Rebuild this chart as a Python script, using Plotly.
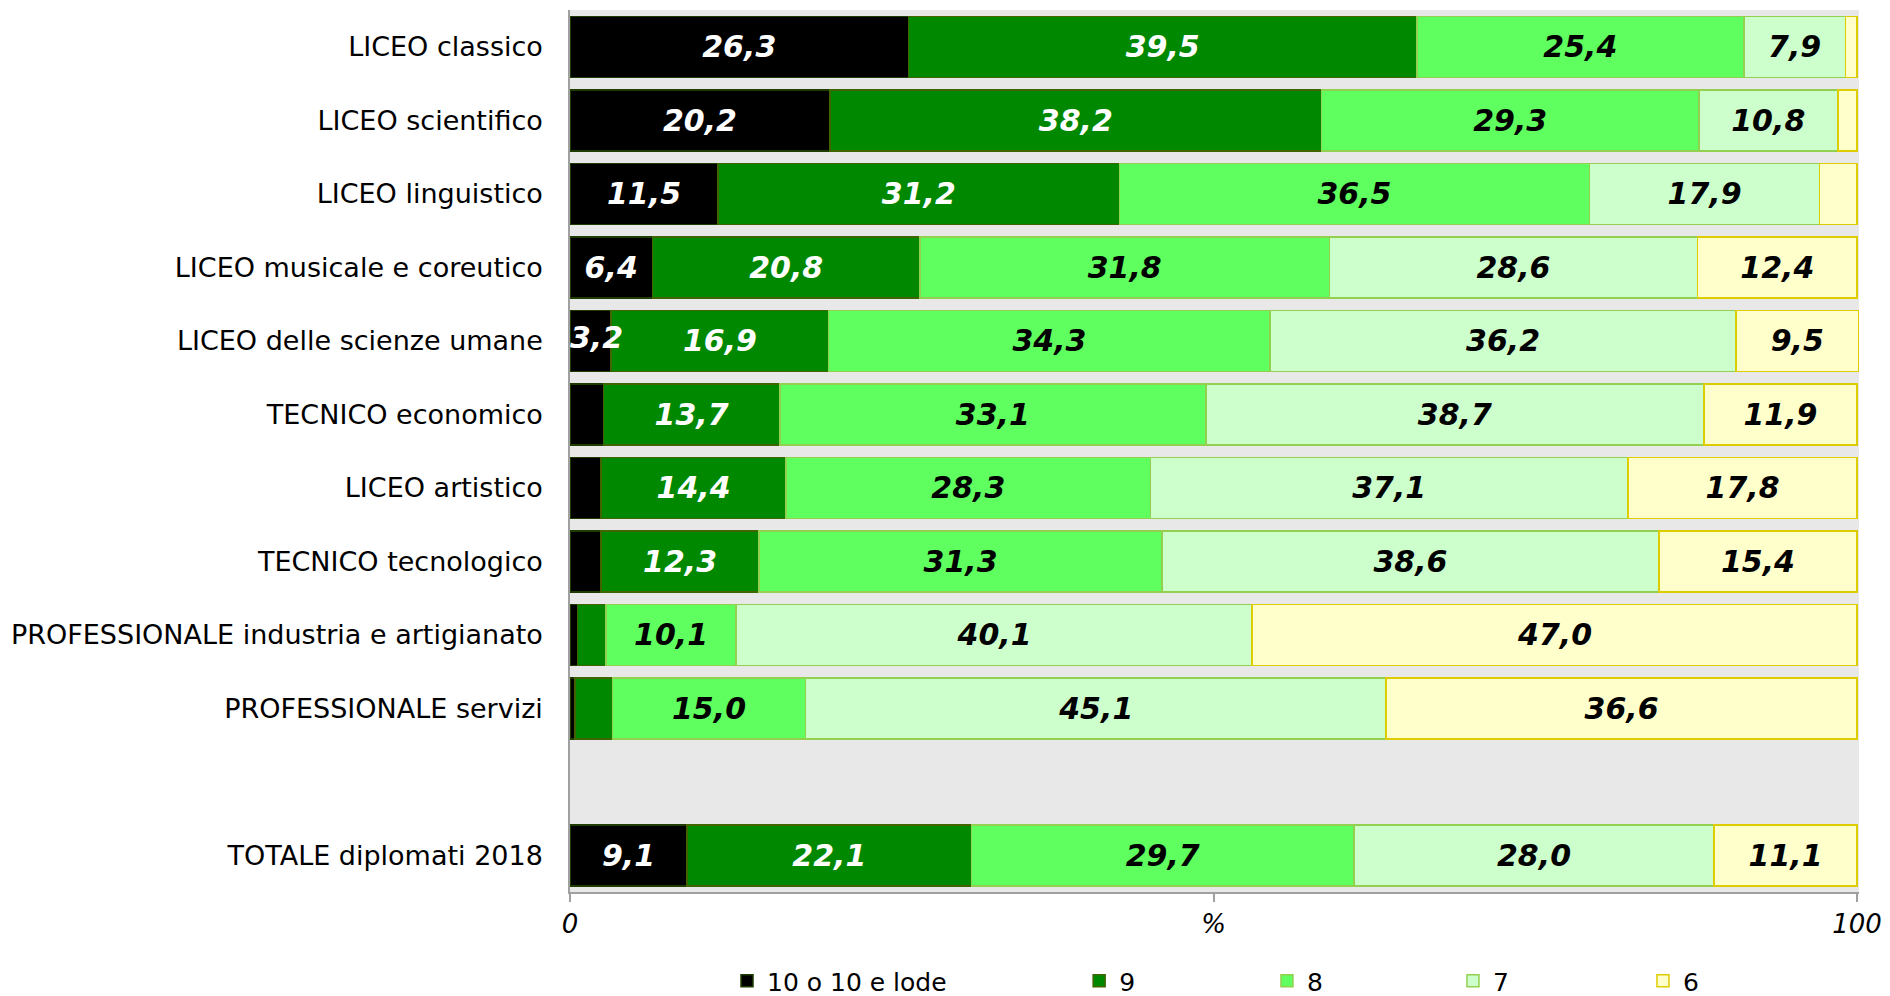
import plotly.graph_objects as go

categories = [
    "LICEO classico",
    "LICEO scientifico",
    "LICEO linguistico",
    "LICEO musicale e coreutico",
    "LICEO delle scienze umane",
    "TECNICO economico",
    "LICEO artistico",
    "TECNICO tecnologico",
    "PROFESSIONALE industria e artigianato",
    "PROFESSIONALE servizi",
    " ",
    "TOTALE diplomati 2018",
]

v10 = [26.3, 20.2, 11.5, 6.4, 3.2, 2.6, 2.4, 2.4, 0.6, 0.4, None, 9.1]
v9 = [39.5, 38.2, 31.2, 20.8, 16.9, 13.7, 14.4, 12.3, 2.2, 2.9, None, 22.1]
v8 = [25.4, 29.3, 36.5, 31.8, 34.3, 33.1, 28.3, 31.3, 10.1, 15.0, None, 29.7]
v7 = [7.9, 10.8, 17.9, 28.6, 36.2, 38.7, 37.1, 38.6, 40.1, 45.1, None, 28.0]
v6 = [0.9, 1.5, 2.9, 12.4, 9.5, 11.9, 17.8, 15.4, 47.0, 36.6, None, 11.1]

series_names = ["10 o 10 e lode", "9", "8", "7", "6"]
series_values = [v10, v9, v8, v7, v6]
fill_colors = ["#000000", "#008800", "#5EFF5E", "#CCFFCC", "#FFFFCC"]
line_colors = ["#1E3C00", "#3F6400", "#94D050", "#94D050", "#DCCC00"]
text_colors = ["#FFFFFF", "#FFFFFF", "#000000", "#000000", "#000000"]

tick_vals = [0, 50, 100]
tick_text = ["0", "%", "100"]

FONT = "DejaVu Sans, Verdana, sans-serif"


def fmt(v):
    return f"{v:.1f}".replace(".", ",")


def is_narrow(v, first_series):
    return first_series and v is not None and 3 <= v < 5


def bar_label(v, first_series):
    if v is None or v < 3 or is_narrow(v, first_series):
        return ""
    return fmt(v)


legend_x = [0.1218, 0.395, 0.5407, 0.685, 0.8324]
legend_ids = ["legend", "legend2", "legend3", "legend4", "legend5"]

fig = go.Figure()
for i, (name, vals) in enumerate(zip(series_names, series_values)):
    fig.add_trace(go.Bar(
        name=name,
        y=categories,
        x=vals,
        orientation="h",
        marker=dict(color=fill_colors[i], line=dict(color=line_colors[i], width=1.5)),
        text=[bar_label(v, i == 0) for v in vals],
        texttemplate="%{text}",
        textposition="inside",
        insidetextanchor="middle",
        textangle=0,
        constraintext="none",
        cliponaxis=False,
        textfont=dict(family=FONT, size=30, color=text_colors[i], weight="bold", style="italic"),
        hoverinfo="skip",
        legend=legend_ids[i],
    ))

# labels of very narrow first segments: start at the bar's left edge, drawn on top
narrow_y = [c for c, v in zip(categories, v10) if is_narrow(v, True)]
narrow_t = [fmt(v) for v in v10 if is_narrow(v, True)]
fig.add_trace(go.Scatter(
    x=[0] * len(narrow_y),
    y=narrow_y,
    mode="text",
    text=narrow_t,
    textposition="middle right",
    textfont=dict(family=FONT, size=30, color=text_colors[0], weight="bold", style="italic"),
    showlegend=False,
    hoverinfo="skip",
    cliponaxis=False,
))

layout_legends = {}
for lid, lx in zip(legend_ids, legend_x):
    layout_legends[lid] = dict(
        x=lx, xanchor="left", xref="paper",
        y=0.015, yanchor="middle", yref="container",
        orientation="h", bgcolor="rgba(0,0,0,0)",
        font=dict(family=FONT, size=25, color="#000000"),
        itemclick=False, itemdoubleclick=False,
    )

fig.update_layout(
    width=1890, height=996,
    margin=dict(l=570, r=31, t=10, b=104, autoexpand=False),
    barmode="stack",
    bargap=0.17,
    paper_bgcolor="#FFFFFF",
    plot_bgcolor="#E8E8E8",
    font=dict(family=FONT, size=26, color="#000000"),
    showlegend=True,
    **layout_legends,
)

fig.update_xaxes(
    range=[0, 100.15],
    tickvals=tick_vals,
    ticktext=tick_text,
    ticks="outside", ticklen=8, tickcolor="#A0A0A0", tickwidth=1.5,
    showline=True, linecolor="#A0A0A0", linewidth=1.5,
    showgrid=False, zeroline=False,
    tickfont=dict(family=FONT, size=26, style="italic", color="#000000"),
    fixedrange=True,
)
fig.update_yaxes(
    categoryorder="array",
    categoryarray=categories,
    autorange="reversed",
    showline=True, linecolor="#A0A0A0", linewidth=1.5,
    showgrid=False, zeroline=False,
    ticks="", ticklabelstandoff=20,
    tickfont=dict(family=FONT, size=27, color="#000000"),
    fixedrange=True,
)

fig.write_html(
    "out.html",
    config={"displayModeBar": False},
    post_script="document.body.style.margin='0px';document.body.style.overflow='hidden';",
)
